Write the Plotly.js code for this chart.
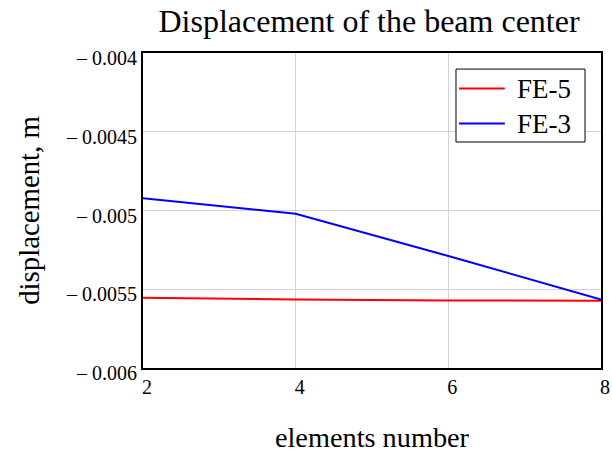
<!DOCTYPE html>
<html>
<head>
<meta charset="utf-8">
<script src="https://cdn.plot.ly/plotly-3.0.1.min.js"></script>
<style>html,body{margin:0;padding:0;background:#fff;}#chart{width:612px;height:455px;}</style>
</head>
<body>
<div id="chart"></div>
<script>
var elements = [2, 4, 6, 8];
var fe5 = [-0.005554, -0.005565, -0.005571, -0.005573];
var fe3 = [-0.004922, -0.005021, -0.005289, -0.005565];
var seriesNames = ["FE-5", "FE-3"];
var seriesColors = ["#ff0000", "#0000ff"];
var yTickVals = [-0.004, -0.0045, -0.005, -0.0055, -0.006];
var yTickText = ["\u2013 0.004", "\u2013 0.0045", "\u2013 0.005", "\u2013 0.0055", "\u2013 0.006"];
var xTickVals = [2, 4, 6, 8];

var font = "Liberation Serif";
var traces = [fe5, fe3].map(function (vals, i) {
  return {x: elements, y: vals, type: "scatter", mode: "lines", name: seriesNames[i],
          line: {color: seriesColors[i], width: 2}, showlegend: false};
});

// legend box drawn in paper coordinates
var shapes = [{type: "rect", xref: "paper", yref: "paper", x0: 0.6834, x1: 0.9651, y0: 0.7175, y1: 0.949,
               line: {color: "#000", width: 1}, fillcolor: "#fff", layer: "above"}];
var annotations = [];
var rowY = [0.887, 0.776];
seriesNames.forEach(function (n, i) {
  shapes.push({type: "line", xref: "paper", yref: "paper", x0: 0.690, x1: 0.790, y0: rowY[i], y1: rowY[i],
               line: {color: seriesColors[i], width: 2}, layer: "above"});
  annotations.push({xref: "paper", yref: "paper", x: 0.812, y: rowY[i], xanchor: "left", yanchor: "middle",
                    text: n, showarrow: false, font: {family: font, size: 27, color: "#000"}});
});

var layout = {
  width: 612, height: 455,
  margin: {l: 143, r: 11, t: 53, b: 87},
  paper_bgcolor: "#fff", plot_bgcolor: "#fff",
  font: {family: font, color: "#000", size: 20},
  title: {text: "Displacement of the beam center", font: {family: font, size: 32, color: "#000"}, x: 0.603, xanchor: "center", y: 0.955, yanchor: "middle"},
  xaxis: {
    range: [2, 8], tickvals: xTickVals, ticktext: xTickVals.map(String),
    showgrid: true, gridcolor: "#d3d3d3", gridwidth: 1,
    showline: true, linecolor: "#000", linewidth: 2, mirror: true,
    ticks: "", zeroline: false, ticklabelshift: 4,
    tickfont: {family: font, size: 20, color: "#000"},
    title: {text: "elements number", font: {family: font, size: 28.3}, standoff: 30}
  },
  yaxis: {
    range: [-0.006, -0.004], tickvals: yTickVals, ticktext: yTickText,
    showgrid: true, gridcolor: "#d3d3d3", gridwidth: 1,
    showline: true, linecolor: "#000", linewidth: 2, mirror: true,
    ticks: "", zeroline: false, ticklabelshift: 5,
    tickfont: {family: font, size: 20, color: "#000"},
    title: {text: "displacement, m", font: {family: font, size: 28.8}, standoff: 18}
  },
  shapes: shapes,
  annotations: annotations,
  showlegend: false
};
Plotly.newPlot("chart", traces, layout, {displayModeBar: false, staticPlot: true});
</script>
</body>
</html>
